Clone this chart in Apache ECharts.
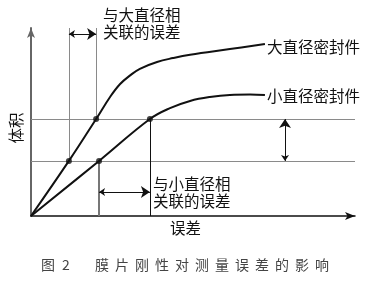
<!DOCTYPE html>
<html><head><meta charset="utf-8">
<script src="https://cdn.jsdelivr.net/npm/echarts@6/dist/echarts.min.js"></script>
<style>html,body{margin:0;padding:0;background:#fff}#c{width:374px;height:282px}</style>
</head><body><div id="c"></div>
<script>
// Data (arbitrary units: x = error, y = volume)
const bigX = [0, 11.7, 20.1, 24.4, 27.5, 30.6, 33.6, 38.9, 43.8, 49.1, 61.4, 72.2];
const bigY = [0, 29.3, 51.6, 63.3, 70.2, 74.8, 78.3, 81.9, 84.0, 85.8, 88.8, 91.5];
const smallX = [0, 21.0, 36.7, 42.9, 49.1, 55.2, 61.4, 67.6, 72.2];
const smallY = [0, 29.3, 51.6, 57.4, 61.2, 63.3, 64.4, 64.6, 64.3];
const levels = [29.3, 51.6];
const markX = [11.7, 20.1, 21.0, 36.7];
const labelBig = '大直径密封件';
const labelSmall = '小直径密封件';
const noteBig = ['与大直径相', '关联的误差'];
const noteSmall = ['与小直径相', '关联的误差'];
const xName = '误差';
const yName = '体积';
const captionChars = ['图', '2', '膜', '片', '刚', '性', '对', '测', '量', '误', '差', '的', '影', '响'];

const zip = (xs, ys) => xs.map((x, i) => [x, ys[i]]);
const FONT = '"Noto Sans CJK SC", sans-serif';

const grayLines = [
  [[0, levels[0]], [100, levels[0]]],
  [[0, levels[1]], [100, levels[1]]],
  [[markX[0], levels[0]], [markX[0], 100]],
  [[markX[1], levels[1]], [markX[1], 100]]
];
const arrows = [
  [[markX[0], 96.8], [markX[1], 96.8]],
  [[markX[2], 12.8], [markX[3], 12.8]],
  [[78.4, levels[0]], [78.4, levels[1]]]
];

const chart = echarts.init(document.getElementById('c'), null, {renderer: 'canvas'});
const texts = [];
function addText(str, x, y, size, fill) {
  texts.push({type: 'text', x: x, y: y, style: {text: str, font: size + 'px ' + FONT, fill: fill || '#111', textVerticalAlign: 'middle'}});
}
addText(noteBig[0], 103, 15, 15.5);
addText(noteBig[1], 103, 32, 15.5);
addText(labelBig, 267, 47, 15.5);
addText(labelSmall, 267, 96, 15.5);
addText(noteSmall[0], 153, 184, 15.5);
addText(noteSmall[1], 153, 201, 15.5);
addText(xName, 170, 228, 15.5);
texts.push({type: 'text', x: 16, y: 128, rotation: Math.PI / 2,
  style: {text: yName, font: '15.5px ' + FONT, fill: '#111', textAlign: 'center', textVerticalAlign: 'middle'}});
const capPos = [41, 62];
for (let i = 2; i < captionChars.length; i++) capPos.push(95 + 20 * (i - 2));
captionChars.forEach((ch, i) => addText(ch, capPos[i], 265, 14, '#444'));

chart.setOption({
  animation: false,
  grid: {left: 31, right: 19, top: 28, bottom: 66},
  xAxis: {type: 'value', min: 0, max: 100,
    axisLine: {show: true, lineStyle: {color: '#111', width: 1.5}, symbol: ['none', 'arrow'], symbolSize: [6, 10]},
    axisTick: {show: false}, axisLabel: {show: false}, splitLine: {show: false}},
  yAxis: {type: 'value', min: 0, max: 100,
    axisLine: {show: true, lineStyle: {color: '#666', width: 2}, symbol: ['none', 'arrow'], symbolSize: [6, 10]},
    axisTick: {show: false}, axisLabel: {show: false}, splitLine: {show: false}},
  series: [
    {type: 'lines', coordinateSystem: 'cartesian2d', silent: true, z: 1,
      lineStyle: {color: '#8a8a8a', width: 1, opacity: 1}, symbol: 'none',
      data: grayLines.map(c => ({coords: c}))},
    {type: 'lines', coordinateSystem: 'cartesian2d', silent: true, z: 1, symbol: 'none',
      data: [
        {coords: [[markX[2], 0], [markX[2], levels[0]]], lineStyle: {color: '#777', width: 2, opacity: 1}},
        {coords: [[markX[3], 0], [markX[3], levels[1]]], lineStyle: {color: '#111', width: 1, opacity: 1}}
      ]},
    {type: 'lines', coordinateSystem: 'cartesian2d', silent: true, z: 3,
      symbol: ['arrow', 'arrow'], symbolSize: [6, 9],
      lineStyle: {color: '#111', width: 1, opacity: 1},
      data: arrows.map(c => ({coords: c}))},
    {type: 'line', data: zip(bigX, bigY), smooth: 0.4, showSymbol: false,
      lineStyle: {color: '#111', width: 2}, z: 4},
    {type: 'line', data: zip(smallX, smallY), smooth: 0.4, showSymbol: false,
      lineStyle: {color: '#111', width: 2}, z: 4},
    {type: 'scatter', symbolSize: 6, itemStyle: {color: '#111'}, z: 5,
      data: [[bigX[1], bigY[1]], [bigX[2], bigY[2]], [smallX[1], smallY[1]], [smallX[2], smallY[2]]]}
  ],
  graphic: texts
});
</script></body></html>
